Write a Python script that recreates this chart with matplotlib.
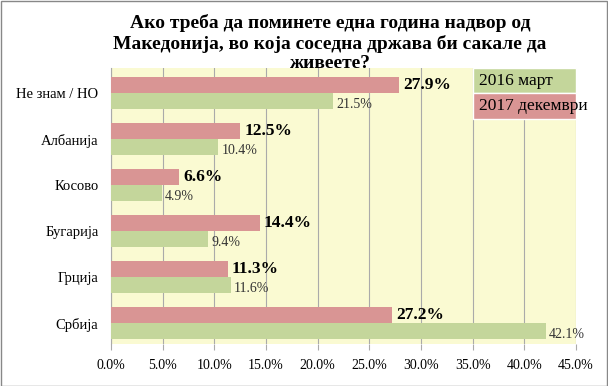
import matplotlib.pyplot as plt
import numpy as np
from matplotlib.patches import Rectangle

# податоци
kategorii = ["Не знам / НО", "Албанија", "Косово", "Бугарија", "Грција", "Србија"]
mart_2016 = [21.5, 10.4, 4.9, 9.4, 11.6, 42.1]
dekemvri_2017 = [27.9, 12.5, 6.6, 14.4, 11.3, 27.2]
serii = ["2016 март", "2017 декември"]
xticks = [0, 5, 10, 15, 20, 25, 30, 35, 40, 45]

zelena = "#c4d69b"
crvena = "#d99594"
pozadina = "#fafad2"

plt.rcParams["font.family"] = ["Liberation Serif", "DejaVu Serif"]

fig = plt.figure(figsize=(6.08, 3.86), dpi=100)
ax = fig.add_axes([111 / 608, 1 - 344 / 386, (576 - 111) / 608, (344 - 68) / 386])
ax.set_facecolor(pozadina)

y = np.arange(len(kategorii))
h = 0.35
ax.barh(y - h / 2, dekemvri_2017, height=h, color=crvena, zorder=3)
ax.barh(y + h / 2, mart_2016, height=h, color=zelena, zorder=3)

for yi, v in zip(y, dekemvri_2017):
    ax.text(v + 0.4, yi - h / 2, f"{v:.1f}%", va="center", ha="left",
            fontsize=12.5, fontweight="bold", zorder=4)
for yi, v in zip(y, mart_2016):
    ax.text(v + 0.3, yi + h / 2 + 0.06, f"{v:.1f}%", va="center", ha="left",
            fontsize=10, color="#333333", zorder=4)

ax.set_xlim(0, 45)
ax.set_ylim(len(kategorii) - 0.55, -0.55)
ax.set_xticks(xticks)
ax.set_xticklabels([f"{t:.1f}%" for t in xticks], fontsize=10)
ax.set_yticks(y)
ax.set_yticklabels(kategorii, fontsize=10.5)
ax.tick_params(axis="y", length=0, pad=9)
ax.tick_params(axis="x", length=4, color="#aaaaaa", pad=7)
ax.grid(axis="x", color="#aaaaaa", linewidth=0.8, zorder=1)
for s in ax.spines.values():
    s.set_visible(False)
ax.spines["left"].set_visible(True)
ax.spines["left"].set_color("#aaaaaa")

# легенда како обоени полиња
for i, (ime, boja) in enumerate(zip(serii, [zelena, crvena])):
    y0 = 1 - (i + 1) * 0.092
    ax.add_patch(Rectangle((35 / 45, y0), 10 / 45, 0.092, transform=ax.transAxes,
                           facecolor=boja, edgecolor="white", linewidth=1, zorder=5, clip_on=False))
    ax.text(35.6 / 45, y0 + 0.046, ime, transform=ax.transAxes, va="center",
            ha="left", fontsize=12.5, zorder=6)

fig.text(0.543, 0.888, "Ако треба да поминете една година надвор од\nМакедонија, во која соседна држава би сакале да\nживеете?",
         ha="center", va="center", fontsize=14, fontweight="bold", linespacing=1.2)

fig.add_artist(Rectangle((0.001, 0.001), 0.997, 0.997, transform=fig.transFigure,
                         fill=False, edgecolor="#888888", linewidth=1))

fig.savefig("out.png", dpi=100)
